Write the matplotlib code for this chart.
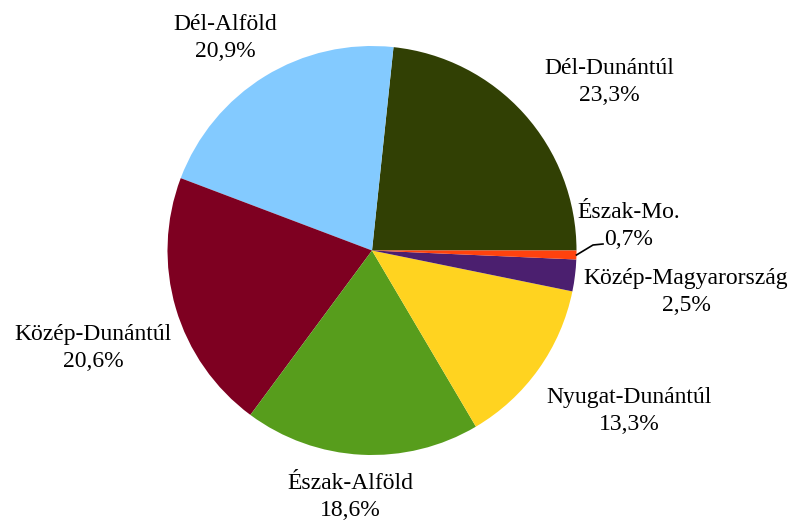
import numpy as np
import matplotlib
matplotlib.use("Agg")
import matplotlib.pyplot as plt

# ---- data ----
regions = ["Dél-Dunántúl", "Dél-Alföld", "Közép-Dunántúl", "Észak-Alföld",
           "Nyugat-Dunántúl", "Közép-Magyarország", "Észak-Mo."]
shares = [23.3, 20.9, 20.6, 18.6, 13.3, 2.5, 0.7]
share_labels = ["23,3%", "20,9%", "20,6%", "18,6%", "13,3%", "2,5%", "0,7%"]
colors = ["#314004", "#83caff", "#7e0021", "#579d1c", "#ffd320", "#4b1f6f", "#ff420e"]

# ---- layout (pixel geometry of the reference) ----
W, H = 797, 523
CX, CY, R = 372.0, 250.5, 204.5
label_px = [(609, 82), (225, 38), (93, 348), (350, 497), (629, 411), (686, 292), (629, 226)]

def to_data(px, py):
    return (px - CX) / R, (CY - py) / R

plt.rcParams['font.family'] = ['Liberation Serif', 'DejaVu Serif']

fig = plt.figure(figsize=(W / 100, H / 100), dpi=100)
ax = fig.add_axes([0, 0, 1, 1])
wedges, _ = ax.pie(shares, colors=colors, startangle=0, counterclock=True,
                   radius=1.0, center=(0, 0),
                   wedgeprops=dict(linewidth=0, edgecolor='none'))
ax.set_xlim(-CX / R, (W - CX) / R)
ax.set_ylim(-(H - CY) / R, CY / R)
ax.set_aspect('auto')
ax.axis('off')

for i, (name, lab) in enumerate(zip(regions, share_labels)):
    x, y = to_data(*label_px[i])
    ax.text(x, y, f"{name}\n{lab}", ha='center', va='center', fontsize=17,
            linespacing=1.38, color='black')

# leader line for the smallest slice
w = wedges[-1]
mid = np.deg2rad((w.theta1 + w.theta2) / 2)
p0 = (np.cos(mid), np.sin(mid))
p1 = to_data(593, 245)
p2 = to_data(603, 244)
ax.plot([p0[0], p1[0], p2[0]], [p0[1], p1[1], p2[1]], color='black', lw=1.2)

fig.savefig("out.png", dpi=100)
